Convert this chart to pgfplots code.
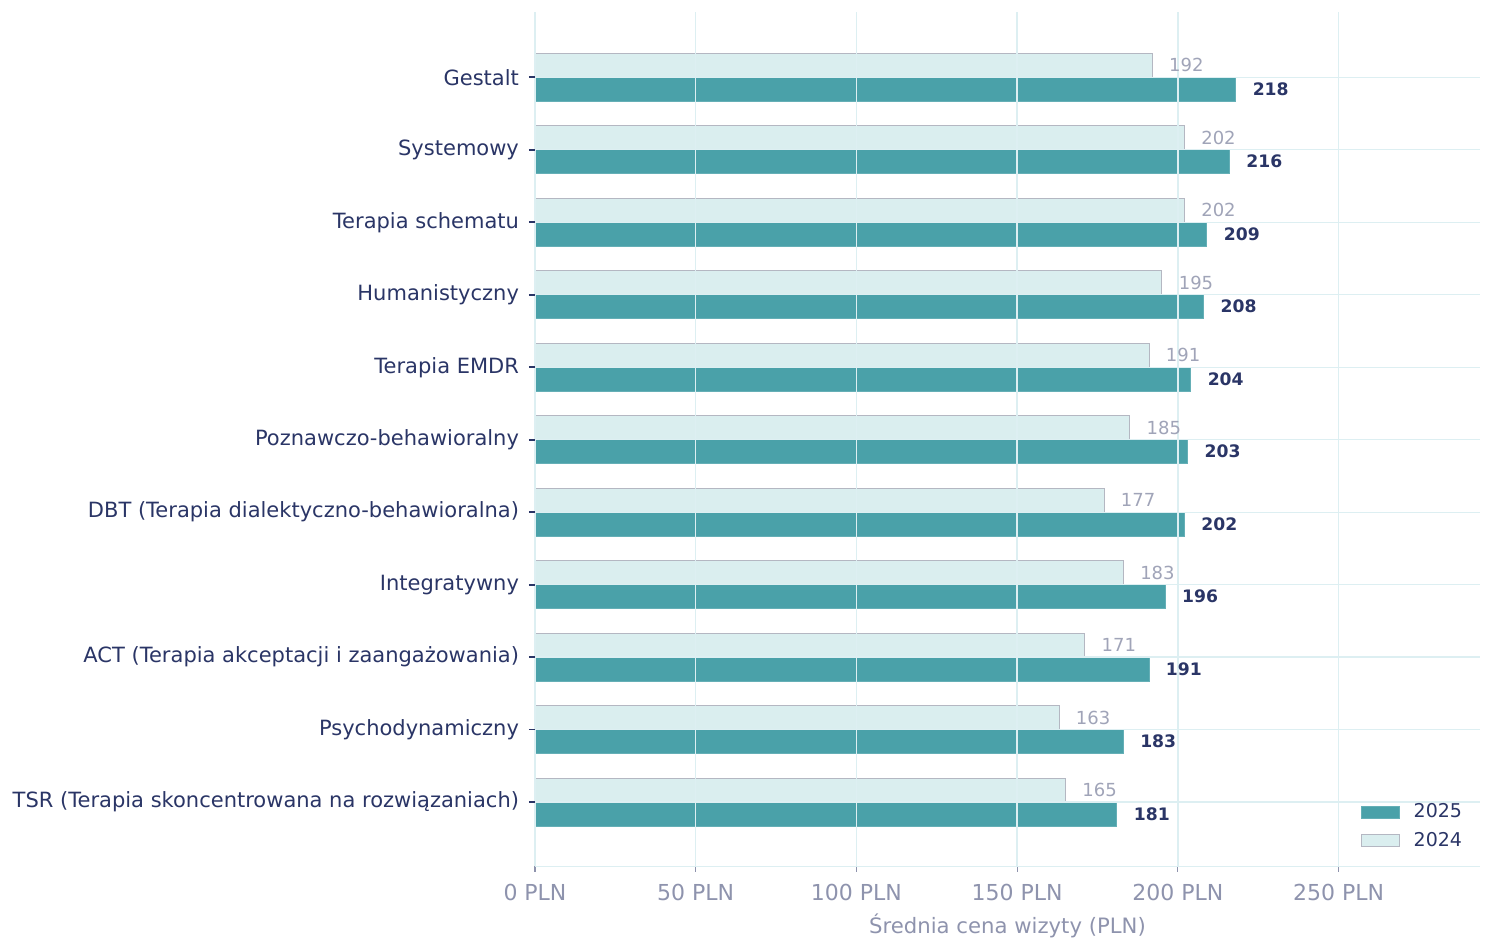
\documentclass[border=0pt]{standalone}
\usepackage{fontspec}
\setmainfont{DejaVu Sans}
\usepackage{pgfplots}
\pgfplotsset{compat=1.18}
\definecolor{tealbar}{HTML}{4AA1A9}
\definecolor{lightbar}{HTML}{DAEEEF}
\definecolor{lightedge}{HTML}{B4B7C2}
\definecolor{navy}{HTML}{2A3566}
\definecolor{tickgray}{HTML}{8E93AD}
\definecolor{gridc}{HTML}{DDEFF2}
\definecolor{lab24}{HTML}{A0A4B8}
\begin{document}
\begin{tikzpicture}
\begin{axis}[
  scale only axis, width=472.5pt, height=427pt,
  /pgf/number format/assume math mode=true,
  xbar, bar width=0.33,
  xmin=0, xmax=294, ymin=-0.88, ymax=10.9,
  ytick={0,...,10},
  yticklabels={TSR (Terapia skoncentrowana na rozwiązaniach),Psychodynamiczny,ACT (Terapia akceptacji i zaangażowania),Integratywny,DBT (Terapia dialektyczno-behawioralna),Poznawczo-behawioralny,Terapia EMDR,Humanistyczny,Terapia schematu,Systemowy,Gestalt},
  xtick={0,50,...,250},
  xticklabels={0 PLN,50 PLN,100 PLN,150 PLN,200 PLN,250 PLN},
  xmajorgrids, ymajorgrids,
  major grid style={gridc, line width=0.7pt},
  axis on top,
  axis x line*=bottom, axis y line*=left,
  axis line style={gridc, -},
  tick align=outside,
  major tick length=3pt,
  xtick style={tickgray, line width=0.6pt},
  ytick style={navy, line width=0.8pt},
  yticklabel style={navy, font=\fontsize{10.5}{12}\selectfont, xshift=-1.5pt},
  xticklabel style={tickgray, font=\fontsize{11}{13}\selectfont, yshift=-2.5pt},
  xlabel={Średnia cena wizyty (PLN)},
  xlabel style={tickgray, font=\fontsize{10.6}{12}\selectfont, yshift=0.5pt},
  legend style={at={(0.992,0.01)}, anchor=south east, draw=none, fill=none,
    font=\fontsize{9.5}{11}\selectfont, text=navy, row sep=1.5pt,
    /tikz/every odd column/.append style={column sep=5pt}},
  legend cell align=left,
  legend image code/.code={\draw[#1] (0pt,-3pt) rectangle (19pt,3pt);},
  nodes near coords,
  nodes near coords align={horizontal},
]
\addplot[fill=tealbar, draw=tealbar!85!white, bar shift=-0.165,
  every node near coord/.append style={navy, font=\fontsize{8.6}{10}\selectfont\bfseries, anchor=west, xshift=5pt}]
  coordinates {(181,0) (183,1) (191,2) (196,3) (202,4) (203,5) (204,6) (208,7) (209,8) (216,9) (218,10)};
\addlegendentry{2025}
\addplot[fill=lightbar, draw=lightedge, bar shift=0.165,
  every node near coord/.append style={lab24, font=\fontsize{9}{10}\selectfont, anchor=west, xshift=5pt}]
  coordinates {(165,0) (163,1) (171,2) (183,3) (177,4) (185,5) (191,6) (195,7) (202,8) (202,9) (192,10)};
\addlegendentry{2024}
\end{axis}
\pgfresetboundingbox
\path ([shift={(-267.5pt,-37pt)}]current axis.south west) rectangle ([shift={(3pt,6pt)}]current axis.north east);
\end{tikzpicture}
\end{document}
